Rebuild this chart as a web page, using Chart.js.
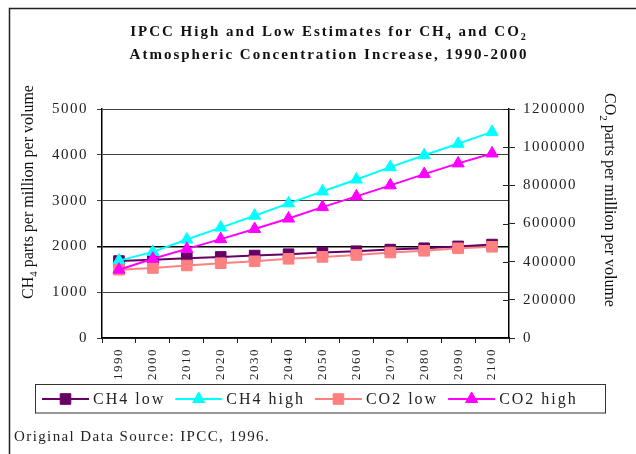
<!DOCTYPE html>
<html><head><meta charset="utf-8">
<script src="https://cdn.jsdelivr.net/npm/chart.js@4.4.1/dist/chart.umd.min.js"></script>
<style>html,body{margin:0;padding:0;background:#fff;}canvas{display:block;}</style>
</head><body>
<canvas id="c" width="636" height="454"></canvas>
<script>
const years = ['1990','2000','2010','2020','2030','2040','2050','2060','2070','2080','2090','2100'];
const ch4Low  = [1680, 1710, 1740, 1770, 1800, 1830, 1865, 1895, 1930, 1960, 2000, 2040];
const ch4High = [1690, 1880, 2150, 2410, 2670, 2940, 3200, 3460, 3730, 3990, 4240, 4500];
const co2Low  = [358000, 367000, 380000, 392000, 402000, 415000, 425000, 435000, 448000, 457000, 470000, 478000];
const co2High = [358000, 415000, 467000, 518000, 571000, 626000, 686000, 742000, 800000, 859000, 915000, 967000];
const seriesNames = ['CH4 low', 'CH4 high', 'CO2 low', 'CO2 high'];
const leftTicks  = [0, 1000, 2000, 3000, 4000, 5000];
const rightTicks = [0, 200000, 400000, 600000, 800000, 1000000, 1200000];
const titleLine1 = [{t:'IPCC High and Low Estimates for CH'},{t:'4',sub:true},{t:' and CO'},{t:'2',sub:true}];
const titleLine2 = [{t:'Atmospheric Concentration Increase, 1990-2000'}];
const leftTitle  = [{t:'CH'},{t:'4',sub:true},{t:' parts per million per volume'}];
const rightTitle = [{t:'CO'},{t:'2',sub:true},{t:' parts per million per volume'}];
const footnote = 'Original Data Source: IPCC, 1996.';

const SERIF = "'Liberation Serif', 'Times New Roman', serif";

function drawRich(ctx, segs, x, y, align, size, bold, spacing) {
  const mainFont = (bold ? 'bold ' : '') + size + 'px ' + SERIF;
  const subFont = (bold ? 'bold ' : '') + Math.round(size * 0.68) + 'px ' + SERIF;
  ctx.letterSpacing = spacing + 'px';
  const widths = segs.map(s => { ctx.font = s.sub ? subFont : mainFont; return ctx.measureText(s.t).width; });
  const total = widths.reduce((a, b) => a + b, 0);
  let cx = align === 'center' ? x - total / 2 : x;
  ctx.textAlign = 'left';
  ctx.textBaseline = 'alphabetic';
  segs.forEach((s, i) => {
    ctx.font = s.sub ? subFont : mainFont;
    ctx.fillText(s.t, cx, y + (s.sub ? size * 0.28 : 0));
    cx += widths[i];
  });
  return total;
}

const decor = {
  id: 'decor',
  beforeDraw(chart) {
    chart.ctx.letterSpacing = '1.5px';
  },
  afterDraw(chart) {
    const ctx = chart.ctx;
    ctx.save();
    // outer frame
    ctx.strokeStyle = '#222';
    ctx.lineWidth = 1.5;
    ctx.beginPath();
    ctx.moveTo(9.5, 454); ctx.lineTo(9.5, 8.5); ctx.lineTo(636, 8.5);
    ctx.stroke();
    // inner half of right-axis ticks
    const y2 = chart.scales.y2;
    ctx.strokeStyle = '#222';
    ctx.lineWidth = 1;
    y2.ticks.forEach(t => {
      const py = Math.round(y2.getPixelForValue(t.value)) + 0.5;
      ctx.beginPath(); ctx.moveTo(y2.left - 6, py); ctx.lineTo(y2.left, py); ctx.stroke();
    });
    ctx.fillStyle = '#111';
    // title
    drawRich(ctx, titleLine1, 329, 36, 'center', 15, true, 2);
    drawRich(ctx, titleLine2, 329, 59, 'center', 15, true, 2);
    // axis titles
    ctx.save();
    ctx.translate(33, 192);
    ctx.rotate(-Math.PI / 2);
    drawRich(ctx, leftTitle, 0, 0, 'center', 16, false, 0);
    ctx.restore();
    ctx.save();
    ctx.translate(604.5, 200);
    ctx.rotate(Math.PI / 2);
    drawRich(ctx, rightTitle, 0, 0, 'center', 16, false, 0);
    ctx.restore();
    // footnote
    ctx.fillStyle = '#222';
    drawRich(ctx, [{t: footnote}], 14, 441, 'left', 15, false, 1.4);
    // legend
    ctx.strokeStyle = '#333';
    ctx.lineWidth = 1;
    ctx.strokeRect(35.5, 384.5, 570, 28.5);
    let x = 42;
    const ly = 399;
    chart.data.datasets.forEach((ds, i) => {
      ctx.strokeStyle = ds.borderColor;
      ctx.lineWidth = 2;
      ctx.beginPath(); ctx.moveTo(x, ly); ctx.lineTo(x + 47, ly); ctx.stroke();
      ctx.fillStyle = ds.pointBackgroundColor;
      ctx.strokeStyle = ds.pointBorderColor;
      ctx.lineWidth = 1;
      Chart.helpers.drawPoint(ctx, {pointStyle: ds.pointStyle, radius: ds.pointRadius, borderWidth: 1, rotation: 0}, x + 23.5, ly);
      ctx.fillStyle = '#222';
      const w = drawRich(ctx, [{t: seriesNames[i]}], x + 51, 404, 'left', 16, false, 2);
      x = x + 51 + w + 10;
    });
    ctx.restore();
  }
};

const mk = (i, data, axis, color, style, r, order) => ({
  label: seriesNames[i], data, yAxisID: axis,
  borderColor: color, backgroundColor: color,
  pointBackgroundColor: color, pointBorderColor: color,
  pointStyle: style, pointRadius: r, pointBorderWidth: 1, pointHoverRadius: r,
  borderWidth: 2, tension: 0, order
});

new Chart(document.getElementById('c'), {
  type: 'line',
  data: {
    labels: years,
    datasets: [
      mk(0, ch4Low, 'y', '#660066', 'rect', 7.5, 4),
      mk(1, ch4High, 'y', '#00FFFF', 'triangle', 7, 3),
      mk(2, co2Low, 'y2', '#FF8080', 'rect', 7.5, 2),
      mk(3, co2High, 'y2', '#FF00FF', 'triangle', 7, 1)
    ]
  },
  options: {
    responsive: false,
    animation: false,
    events: [],
    layout: {padding: {top: 109, left: 0, right: 0, bottom: 0}},
    plugins: {legend: {display: false}, title: {display: false}, tooltip: {enabled: false}},
    scales: {
      x: {
        type: 'category', offset: true,
        grid: {offset: true, drawOnChartArea: false, drawTicks: true, tickLength: 5, color: '#222'},
        border: {color: '#000', width: 1.5},
        ticks: {autoSkip: false, maxRotation: 90, minRotation: 90, padding: 5, color: '#222',
                font: {family: SERIF, size: 13}},
        afterFit: s => { s.height = 116; }
      },
      y: {
        position: 'left', min: 0, max: 5000,
        afterBuildTicks: s => { s.ticks = leftTicks.map(v => ({value: v})); },
        grid: {drawTicks: true, tickLength: 5,
               color: c => (c.tick && c.tick.value === 2000) ? '#000' : '#404040',
               lineWidth: c => (c.tick && c.tick.value === 2000) ? 1.5 : 1},
        border: {color: '#000', width: 1.5},
        ticks: {padding: 9, color: '#222', font: {family: SERIF, size: 15},
                callback: v => String(v)},
        afterFit: s => { s.width = 102; }
      },
      y2: {
        position: 'right', min: 0, max: 1200000,
        afterBuildTicks: s => { s.ticks = rightTicks.map(v => ({value: v})); },
        grid: {drawOnChartArea: false, drawTicks: true, tickLength: 6, color: '#222'},
        border: {color: '#000', width: 1.5},
        ticks: {padding: 8, color: '#222', font: {family: SERIF, size: 15},
                callback: v => String(v)},
        afterFit: s => { s.width = 127; }
      }
    }
  },
  plugins: [decor]
});
</script>
</body></html>
